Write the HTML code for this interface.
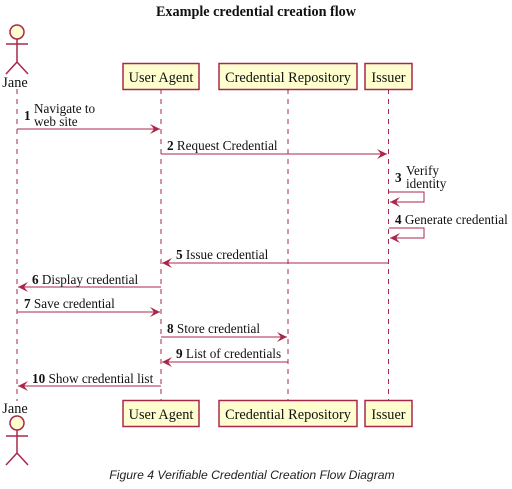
<!DOCTYPE html>
<html><head><meta charset="utf-8"><style>
html,body{margin:0;padding:0;background:#fff;width:512px;height:489px;overflow:hidden}
svg{display:block}
text{font-family:"Liberation Serif",serif;fill:#111}
.m{font-size:13.2px}
.b{font-weight:bold}
.p{font-size:14.3px}
</style></head><body>
<svg width="512" height="489" viewBox="0 0 512 489" xmlns="http://www.w3.org/2000/svg">
<defs>
<marker id="a" viewBox="0 0 10 10" refX="10" refY="5" markerWidth="10" markerHeight="10" markerUnits="userSpaceOnUse" orient="auto">
<path d="M0,0 L10,5 L0,10 L4,5 Z" fill="#a8284c"/>
</marker>
</defs>
<text x="256" y="16" text-anchor="middle" style="font-size:14.2px;font-weight:bold">Example credential creation flow</text>
<g stroke="#a8284c" stroke-width="1" stroke-dasharray="5,5" fill="none">
<line x1="17" y1="89" x2="17" y2="401"/>
<line x1="161" y1="89" x2="161" y2="401"/>
<line x1="288" y1="89" x2="288" y2="401"/>
<line x1="388.5" y1="89" x2="388.5" y2="401"/>
</g>
<g fill="#fefece" stroke="#a8284c" stroke-width="1.5">
<rect x="123" y="63.5" width="76" height="26"/>
<rect x="219" y="63.5" width="138" height="26"/>
<rect x="365" y="63.5" width="47" height="26"/>
<rect x="123" y="400.5" width="76" height="26"/>
<rect x="219" y="400.5" width="138" height="26"/>
<rect x="365" y="400.5" width="47" height="26"/>
</g>
<text class="p" x="161" y="82" text-anchor="middle">User Agent</text>
<text class="p" x="288" y="82" text-anchor="middle">Credential Repository</text>
<text class="p" x="388.5" y="82" text-anchor="middle">Issuer</text>
<text class="p" x="161" y="419" text-anchor="middle">User Agent</text>
<text class="p" x="288" y="419" text-anchor="middle">Credential Repository</text>
<text class="p" x="388.5" y="419" text-anchor="middle">Issuer</text>
<g stroke="#a8284c" stroke-width="1.5" fill="#fefece">
<circle cx="17" cy="32" r="7"/>
<circle cx="17" cy="423" r="7"/>
</g>
<g stroke="#a8284c" stroke-width="1.5" fill="none">
<path d="M17,39 V62 M6,44 H28 M6,74 L17,62 L28,74"/>
<path d="M17,430 V453 M6,436 H28 M6,465 L17,453 L28,465"/>
</g>
<text class="p" x="15" y="87" text-anchor="middle">Jane</text>
<text class="p" x="15" y="413" text-anchor="middle">Jane</text>
<g stroke="#a8284c" stroke-width="1" fill="none" marker-end="url(#a)">
<line x1="17" y1="129" x2="160" y2="129"/>
<line x1="161" y1="154" x2="387" y2="154"/>
<path d="M389,192 H424 V202 H390"/>
<path d="M389,228 H424 V238 H390"/>
<line x1="388" y1="263" x2="162" y2="263"/>
<line x1="161" y1="287" x2="18" y2="287"/>
<line x1="17" y1="312" x2="160" y2="312"/>
<line x1="161" y1="337" x2="287" y2="337"/>
<line x1="288" y1="362" x2="162" y2="362"/>
<line x1="161" y1="386" x2="18" y2="386"/>
</g>
<text class="m b" x="24" y="120">1</text>
<text class="m" x="34" y="113">Navigate to</text>
<text class="m" x="34" y="126">web site</text>
<text class="m" x="167" y="150"><tspan class="b">2</tspan> Request Credential</text>
<text class="m b" x="395" y="182">3</text>
<text class="m" x="406" y="175">Verify</text>
<text class="m" x="406" y="188">identity</text>
<text class="m" x="395" y="224"><tspan class="b">4</tspan> Generate credential</text>
<text class="m" x="176" y="259"><tspan class="b">5</tspan> Issue credential</text>
<text class="m" x="32" y="284"><tspan class="b">6</tspan> Display credential</text>
<text class="m" x="24" y="308"><tspan class="b">7</tspan> Save credential</text>
<text class="m" x="167" y="333"><tspan class="b">8</tspan> Store credential</text>
<text class="m" x="176" y="358"><tspan class="b">9</tspan> List of credentials</text>
<text class="m" x="32" y="383"><tspan class="b">10</tspan> Show credential list</text>
<text x="252" y="479" text-anchor="middle" style="font-family:'Liberation Sans',sans-serif;font-style:italic;font-size:12.2px;fill:#222">Figure 4 Verifiable Credential Creation Flow Diagram</text>
</svg>
</body></html>
